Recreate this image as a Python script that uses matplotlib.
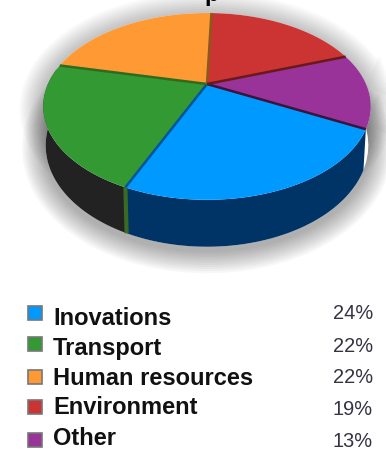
import matplotlib
matplotlib.use("Agg")
import matplotlib.pyplot as plt
import numpy as np

labels = ["Inovations", "Transport", "Human resources", "Environment", "Other"]
shares = [24, 22, 22, 19, 13]
pct_labels = ["24%", "22%", "22%", "19%", "13%"]

top_colors = ["#0099ff", "#339933", "#ff9933", "#cc3333", "#993399"]
side_colors = ["#003366", "#222222", "#222222", "#222222", "#441844"]
edge_colors = ["#005599", "#2e6b1e", "#8a5a1a", "#661a1a", "#3a143a"]

legend_rows = [314, 345, 378, 408, 441]
text_rows = [319, 349, 379, 408, 439]
pct_rows = [314, 347, 378, 410, 442]

START_ANGLE = -27.2
CX, CY = 207, 85
RX, RY = 159, 88
TILT = 0.24
DEPTH = 37


def project(theta, drop=0.0, scale=1.0):
    # tilted disc seen in perspective, theta in degrees
    c = np.cos(np.radians(theta))
    s = np.sin(np.radians(theta))
    w = 1 + TILT * s
    return CX + scale * RX * c / w, CY - scale * RY * s / w + drop / w


def arc(a, b, drop=0.0, scale=1.0):
    t = np.linspace(a, b, 80)
    return project(t, drop, scale)


fig = plt.figure(figsize=(3.86, 4.52), dpi=100)
ax = fig.add_axes([0, 0, 1, 1])
ax.set_xlim(0, 386)
ax.set_ylim(452, 0)
ax.axis("off")

# soft drop shadow around the disc
x_top, y_top = arc(0, 360)
x_low, y_low = arc(0, 360, DEPTH, 0.985)
for lw in np.arange(34, 2, -3):
    ax.plot(x_top, y_top + 3, color="#000000", alpha=0.022, lw=lw, zorder=1)
    ax.plot(x_low, y_low + 3, color="#000000", alpha=0.03, lw=lw, zorder=1)
ax.fill(x_top, y_top, color="white", lw=0, zorder=1.5)
ax.fill(x_low, y_low, color="white", lw=0, zorder=1.5)

edges = START_ANGLE - np.cumsum([0] + shares) * 3.6

# rim, only the front half shows
for i in range(len(shares)):
    a, b = edges[i], edges[i + 1]
    a_front, b_front = max(a, -190), max(b, -190)
    a_front, b_front = min(a_front, 8), min(b_front, 8)
    if a_front == b_front:
        continue
    xa, ya = arc(a_front, b_front)
    xb, yb = arc(a_front, b_front, DEPTH, 0.985)
    ax.fill(np.r_[xa, xb[::-1]], np.r_[ya, yb[::-1]], color=side_colors[i], lw=0, zorder=2)

# green strip where the slices meet on the rim
xa, ya = project(edges[1])
xb, yb = project(edges[1], DEPTH, 0.985)
ax.plot([xa, xb], [ya, yb], color="#3a6b22", lw=3, zorder=2.5, solid_capstyle="butt")

# top faces
for i in range(len(shares)):
    xs, ys = arc(edges[i], edges[i + 1])
    ax.fill(np.r_[CX, xs], np.r_[CY, ys], color=top_colors[i], lw=0, zorder=3)

# slice borders
for i in range(len(shares)):
    xs, ys = project(edges[i])
    ax.plot([CX, xs], [CY, ys], color=edge_colors[(i - 1) % 5], lw=1.8, zorder=4,
            solid_capstyle="butt")

# title descender, the rest runs off the canvas
ax.text(212, 0.5, "p", fontsize=17, fontweight="bold", family="Liberation Sans",
        ha="center", va="baseline", color="black", clip_on=False)

for i in range(len(labels)):
    ax.plot(35, legend_rows[i], marker="s", ms=10.5, mfc=top_colors[i], mec="#777777",
            mew=1.2, zorder=5)
    ax.text(53, text_rows[i], labels[i], fontsize=17, fontweight="bold",
            family="Liberation Sans", ha="left", va="center", color="#111111")
    ax.text(373, pct_rows[i], pct_labels[i], fontsize=14.4,
            family="Liberation Sans", ha="right", va="center", color="#333344")

fig.savefig("out.png", dpi=100)
